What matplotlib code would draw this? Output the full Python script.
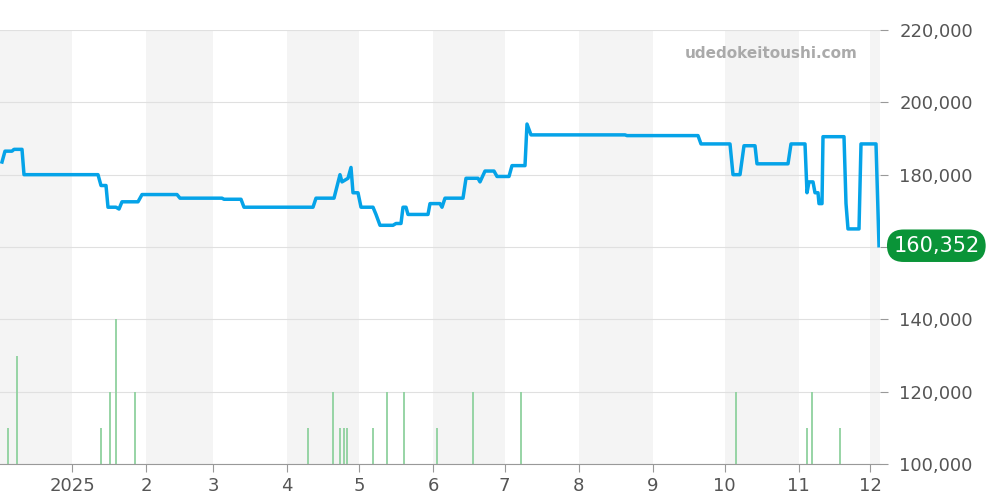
import matplotlib
matplotlib.use("Agg")
import matplotlib.pyplot as plt
import pandas as pd

start = pd.Timestamp("2024-12-01")
px_per_day = 2.39
px_offset = -2  # pixel where Dec 1 2024 sits

# price line, x read in pixels from the chart, y in yen (thousands)
line_px = [2, 5, 12, 14, 22, 24, 98, 101, 106, 108, 116, 119, 122, 138, 142, 177, 180, 222, 224, 241,
           244, 313, 316, 334, 340, 342, 348, 351, 353, 358, 361, 373, 376, 380, 393, 396, 401, 403,
           406, 408, 428, 430, 440, 442, 445, 463, 466, 478, 480, 485, 494, 497, 509, 512, 525, 527,
           531, 625, 627, 698, 701, 730, 733, 740, 744, 755, 757, 788, 791, 805, 807, 809, 813, 815,
           818, 819, 822, 823, 844, 846, 848, 859, 861, 876, 879]
line_k = [183.5, 186.5, 186.5, 187, 187, 180, 180, 177, 177, 171, 171, 170.5, 172.5, 172.5, 174.5,
          174.5, 173.5, 173.5, 173.2, 173.2, 171, 171, 173.5, 173.5, 180, 178, 179, 182, 175, 175,
          171, 171, 169, 166, 166, 166.5, 166.5, 171, 171, 169, 169, 172, 172, 171, 173.5, 173.5,
          179, 179, 178, 181, 181, 179.5, 179.5, 182.5, 182.5, 194, 191, 191, 190.8, 190.8, 188.5,
          188.5, 180, 180, 188, 188, 183, 183, 188.5, 188.5, 175, 178, 178, 175, 175, 172, 172,
          190.5, 190.5, 172, 165, 165, 188.5, 188.5, 160.352]

vol_px = [8, 17, 101, 110, 116, 135, 308, 333, 340, 344, 347, 373, 387, 404, 437, 473, 521, 736, 807, 812, 840]
vol_k = [110, 130, 110, 120, 140, 120, 110, 120, 110, 110, 110, 110, 120, 120, 110, 120, 120, 120, 110, 120, 110]

last_price = 160352

to_date = lambda p: start + pd.Timedelta(days=(p - px_offset) / px_per_day)
line_dates = [to_date(p) for p in line_px]
vol_dates = [to_date(p) for p in vol_px]
x0 = to_date(0)
end = to_date(880)

fig = plt.figure(figsize=(10, 5), dpi=100)
ax = fig.add_axes([0.0, 0.072, 0.88, 0.868])
ax.set_xlim(x0, end)
ax.set_ylim(100000, 220000)

# alternating month bands
m = pd.Timestamp("2024-12-01")
while m < end:
    nxt = m + pd.offsets.MonthBegin(1)
    if m.month % 2 == 0:
        ax.axvspan(m, nxt, color="#f4f4f4", zorder=0, lw=0)
    m = nxt

for y in range(100000, 220001, 20000):
    ax.axhline(y, color="#e0e0e0", lw=0.8, zorder=1)

ax.vlines(vol_dates, 100000, [v * 1000 for v in vol_k], color="#8fd19e", lw=1.3, zorder=2)
ax.plot(line_dates, [v * 1000 for v in line_k], color="#05a3e8", lw=2.5, zorder=3)

ax.yaxis.tick_right()
yt = list(range(100000, 220001, 20000))
ax.set_yticks(yt)
ax.set_yticklabels([f"{v:,}" if v != 160000 else "" for v in yt])
ticks = pd.date_range("2025-01-01", "2025-12-01", freq="MS")
ax.set_xticks(ticks)
ax.set_xticklabels(["2025"] + [str(t.month) for t in ticks[1:]])
ax.tick_params(axis="both", labelsize=13, colors="#555555", length=6, color="#999999")
ax.tick_params(axis="y", pad=8)
for s in ["top", "left", "right"]:
    ax.spines[s].set_visible(False)
ax.spines["bottom"].set_color("#999999")

ax.text(0.975, 0.947, "udedokeitoushi.com", transform=ax.transAxes, ha="right", va="center",
        fontsize=11, fontweight="bold", color="#aaaaaa")
ax.text(1.064, (last_price - 100000) / 120000, f"{last_price:,}", transform=ax.transAxes,
        ha="center", va="center", fontsize=15, color="white",
        bbox=dict(boxstyle="round,pad=0.3,rounding_size=0.8", fc="#0a9438", ec="none"))

fig.savefig("out.png")
